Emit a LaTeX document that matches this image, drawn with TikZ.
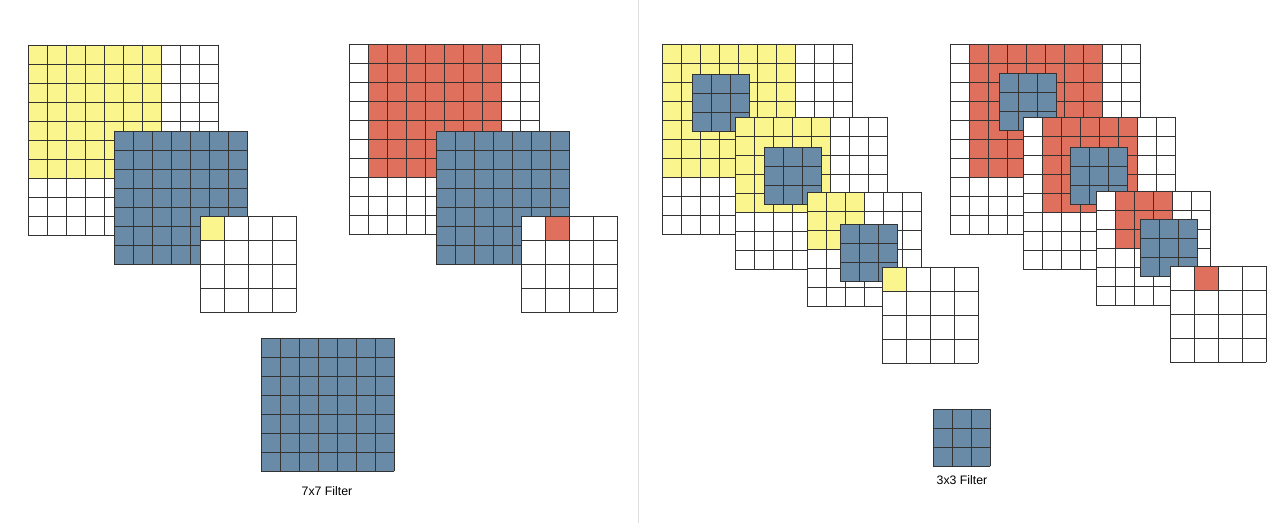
\documentclass[tikz,border=0pt]{standalone}
\usepackage{fontspec}
\setmainfont{Liberation Sans}
\usepackage{tikz}
\usetikzlibrary{calc}
\definecolor{MapYellow}{RGB}{250,245,140}
\definecolor{MapRed}{RGB}{223,112,93}
\definecolor{FilterBlue}{RGB}{106,139,168}

% n x n cell lines, top-left (#1,#2), cell size #4
\newcommand{\cellgrid}[4]{%
  \foreach \i in {0,...,#3} {
    \draw[gridline] ({#1+\i*#4},#2) -- ({#1+\i*#4},{#2+#3*#4});
    \draw[gridline] (#1,{#2+\i*#4}) -- ({#1+#3*#4},{#2+\i*#4});
  }}
% blue filter of #3 x #3 cells
\newcommand{\filterat}[4]{%
  \fill[FilterBlue] (#1,#2) rectangle ++({#3*#4},{#3*#4});
  \cellgrid{#1}{#2}{#3}{#4}}

\begin{document}
\begin{tikzpicture}[x=0.02cm, y=-0.02cm,
    gridline/.style={draw=black!80, line width=0.5pt, line cap=rect},
    caption/.style={font=\fontsize{7}{8}\selectfont, inner sep=0pt}]

  \useasboundingbox (0,0) rectangle (1280,523);
  \fill[white] (0,0) rectangle (1280,523);

  % Divider
  \draw[black!13, line width=0.9pt] (638.5,0) -- (638.5,523);

  % 7x7 filter, yellow output
  \fill[white] (28,45) rectangle ++(190,190);
  \fill[MapYellow] (28,45) rectangle ++(133,133);
  \cellgrid{28}{45}{10}{19}
  \filterat{114}{131}{7}{19}
  \fill[white] (200,216) rectangle ++(96,96);
  \fill[MapYellow] (200,216) rectangle ++(24,24);
  \cellgrid{200}{216}{4}{24}

  % 7x7 filter, red output
  \fill[white] (349,44) rectangle ++(190,190);
  \fill[MapRed] (368,44) rectangle ++(133,133);
  \cellgrid{349}{44}{10}{19}
  \filterat{436}{131}{7}{19}
  \fill[white] (521,216) rectangle ++(96,96);
  \fill[MapRed] (545,216) rectangle ++(24,24);
  \cellgrid{521}{216}{4}{24}

  % Filter
  \filterat{261}{338}{7}{19}
  \node[caption] (cap7) at (327,491) {7x7 Filter};

  % 3x3 stack, yellow output
  \fill[white] (662,44) rectangle ++(190,190);
  \fill[MapYellow] (662,44) rectangle ++(133,133);
  \cellgrid{662}{44}{10}{19}
  \filterat{692}{74}{3}{19}
  \fill[white] (735,117) rectangle ++(152,152);
  \fill[MapYellow] (735,117) rectangle ++(95,95);
  \cellgrid{735}{117}{8}{19}
  \filterat{764}{147}{3}{19}
  \fill[white] (807,192) rectangle ++(114,114);
  \fill[MapYellow] (807,192) rectangle ++(57,57);
  \cellgrid{807}{192}{6}{19}
  \filterat{840}{224}{3}{19}
  \fill[white] (882,267) rectangle ++(96,96);
  \fill[MapYellow] (882,267) rectangle ++(24,24);
  \cellgrid{882}{267}{4}{24}

  % 3x3 stack, red output
  \fill[white] (950,44) rectangle ++(190,190);
  \fill[MapRed] (969,44) rectangle ++(133,133);
  \cellgrid{950}{44}{10}{19}
  \filterat{999}{73}{3}{19}
  \fill[white] (1023,117) rectangle ++(152,152);
  \fill[MapRed] (1042,117) rectangle ++(95,95);
  \cellgrid{1023}{117}{8}{19}
  \filterat{1070}{147}{3}{19}
  \fill[white] (1096,191) rectangle ++(114,114);
  \fill[MapRed] (1115,191) rectangle ++(57,57);
  \cellgrid{1096}{191}{6}{19}
  \filterat{1140}{219}{3}{19}
  \fill[white] (1170,266) rectangle ++(96,96);
  \fill[MapRed] (1194,266) rectangle ++(24,24);
  \cellgrid{1170}{266}{4}{24}

  % Filter
  \filterat{933}{409}{3}{19}
  \node[caption] (cap3) at (962,480) {3x3 Filter};

\end{tikzpicture}
\end{document}
